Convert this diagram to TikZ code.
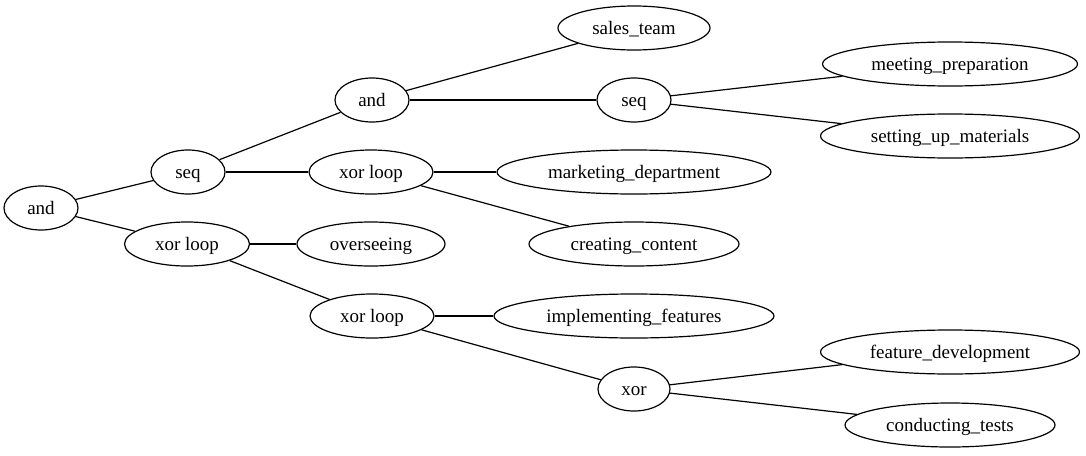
\documentclass[tikz,border=0pt]{standalone}
\usepackage{fontspec}
\setmainfont{Liberation Serif}
\usetikzlibrary{shapes.geometric}
\begin{document}
\begin{tikzpicture}[x=1pt,y=-1pt,
  el/.style={draw,ellipse,line width=1.2pt,inner sep=0pt,minimum height=44pt,text height=15pt,text depth=3pt,font=\fontsize{19}{22}\selectfont},
  edge/.style={line width=1.2pt}]
\useasboundingbox (0,0) rectangle (1086,455);
\node[el,minimum width=74pt] (and0) at (41,208) {and};
\node[el,minimum width=74pt] (seq1) at (188,172) {seq};
\node[el,minimum width=125pt] (xl1) at (187,244) {xor loop};
\node[el,minimum width=74pt] (and2) at (372,100) {and};
\node[el,minimum width=124pt] (xl2) at (371,172) {xor loop};
\node[el,minimum width=148pt] (over) at (371,244) {overseeing};
\node[el,minimum width=124pt] (xl3) at (372,316) {xor loop};
\node[el,minimum width=152pt] (sales) at (634,28) {sales\_team};
\node[el,minimum width=74pt] (seq3) at (634,100) {seq};
\node[el,minimum width=274pt] (mkt) at (634,172) {marketing\_department};
\node[el,minimum width=210pt] (cc) at (634,244) {creating\_content};
\node[el,minimum width=280pt] (impl) at (634,316) {implementing\_features};
\node[el,minimum width=72pt] (xor) at (634,389) {xor};
\node[el,minimum width=255pt] (meet) at (950,64) {meeting\_preparation};
\node[el,minimum width=259pt] (setup) at (950,136) {setting\_up\_materials};
\node[el,minimum width=259pt] (feat) at (950,352) {feature\_development};
\node[el,minimum width=210pt] (test) at (950,425) {conducting\_tests};
\draw[edge] (and0) -- (seq1);
\draw[edge] (and0) -- (xl1);
\draw[edge] (seq1) -- (and2);
\draw[edge] (seq1) -- (xl2);
\draw[edge] (xl1) -- (over);
\draw[edge] (xl1) -- (xl3);
\draw[edge] (and2) -- (sales);
\draw[edge] (and2) -- (seq3);
\draw[edge] (seq3) -- (meet);
\draw[edge] (seq3) -- (setup);
\draw[edge] (xl2) -- (mkt);
\draw[edge] (xl2) -- (cc);
\draw[edge] (xl3) -- (impl);
\draw[edge] (xl3) -- (xor);
\draw[edge] (xor) -- (feat);
\draw[edge] (xor) -- (test);
\end{tikzpicture}
\end{document}
